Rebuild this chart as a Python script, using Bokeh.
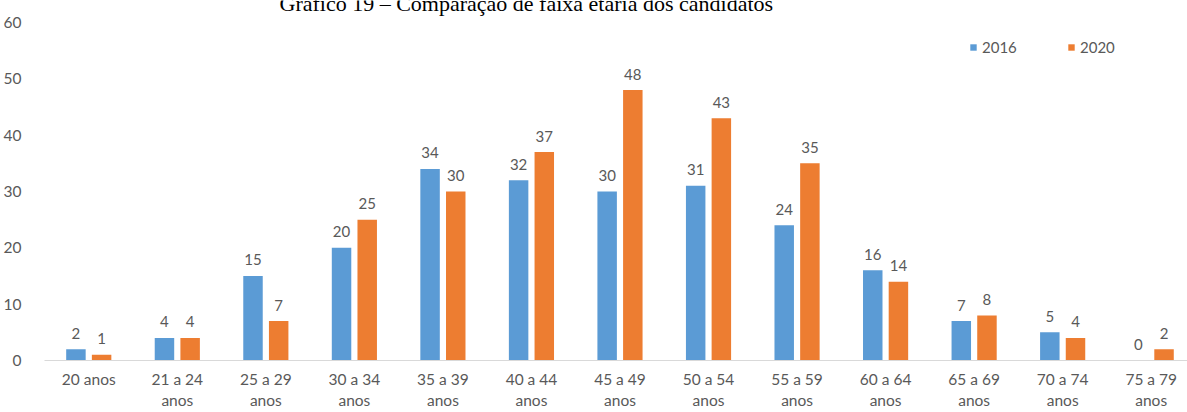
from bokeh.plotting import figure
from bokeh.models import ColumnDataSource, Range1d, FixedTicker, Label, Legend, LegendItem
from bokeh.transform import dodge
from bokeh.core.properties import value
from bokeh.embed import file_html
from bokeh.resources import INLINE

title_text = "Gráfico 19 – Comparação de faixa etária dos candidatos"
categories = ["20 anos", "21 a 24\nanos", "25 a 29\nanos", "30 a 34\nanos", "35 a 39\nanos",
              "40 a 44\nanos", "45 a 49\nanos", "50 a 54\nanos", "55 a 59\nanos", "60 a 64\nanos",
              "65 a 69\nanos", "70 a 74\nanos", "75 a 79\nanos"]
v2016 = [2, 4, 15, 20, 34, 32, 30, 31, 24, 16, 7, 5, 0]
v2020 = [1, 4, 7, 25, 30, 37, 48, 43, 35, 14, 8, 4, 2]
series_names = ["2016", "2020"]
y_ticks = [0, 10, 20, 30, 40, 50, 60]

BLUE = "#5B9BD5"
ORANGE = "#ED7D31"
GRAY = "#595959"
FONT = "Lato"

idx = list(range(len(categories)))
src = ColumnDataSource(dict(
    x=idx, v2016=v2016, v2020=v2020,
    l2016=[str(v) for v in v2016], l2020=[str(v) for v in v2020],
))

# frame reaches the top edge so the cut-off caption can be drawn there;
# the 60 tick sits ~22 px below the top
p = figure(width=1187, height=412, output_backend="svg", toolbar_location=None,
           x_range=Range1d(-0.5, 12.41), y_range=Range1d(0, 63.9),
           min_border_left=44, min_border_right=0, min_border_top=0, min_border_bottom=51)
p.outline_line_color = None
p.xgrid.visible = False
p.ygrid.visible = False
p.background_fill_color = "white"
p.border_fill_color = "white"

w = 0.22
off = 0.145
r1 = p.vbar(x=dodge("x", -off, range=p.x_range), top="v2016", width=w, source=src,
            fill_color=BLUE, line_color=None)
r2 = p.vbar(x=dodge("x", off, range=p.x_range), top="v2020", width=w, source=src,
            fill_color=ORANGE, line_color=None)

for col, top, o in (("l2016", "v2016", -off), ("l2020", "v2020", off)):
    p.text(x=dodge("x", o, range=p.x_range), y=top, text=col, source=src,
           text_align="center", text_baseline="alphabetic", y_offset=-16,
           text_font=value(FONT), text_font_size="15px", text_color=GRAY)

# x axis
xa = p.xaxis[0]
xa.ticker = FixedTicker(ticks=idx)
xa.major_label_overrides = {i: c for i, c in zip(idx, categories)}
xa.axis_line_color = "#D9D9D9"
xa.axis_line_width = 1
xa.major_tick_line_color = None
xa.minor_tick_line_color = None
xa.major_label_text_font = FONT
xa.major_label_text_font_size = "15.5px"
xa.major_label_text_color = GRAY
xa.major_label_standoff = 3
xa.major_label_text_line_height = 1.2

# y axis
ya = p.yaxis[0]
ya.ticker = FixedTicker(ticks=y_ticks)
ya.axis_line_color = None
ya.major_tick_line_color = None
ya.minor_tick_line_color = None
ya.major_label_text_font = FONT
ya.major_label_text_font_size = "15.5px"
ya.major_label_text_color = GRAY
ya.major_label_standoff = 17

legend = Legend(items=[LegendItem(label=series_names[0], renderers=[r1]),
                       LegendItem(label=series_names[1], renderers=[r2])],
                orientation="horizontal", location=(925, 304),
                glyph_width=8, glyph_height=8, label_standoff=5, spacing=5,
                label_width=80, label_height=15, padding=0, margin=0,
                border_line_color=None, background_fill_alpha=0,
                label_text_font=FONT, label_text_font_size="15px", label_text_color=GRAY)
p.add_layout(legend, "center")

# caption (cut off at the top in the reference); placed above the 60 level
title = Label(x=235, x_units="screen", y=60, y_offset=19, text=title_text,
              text_font="Liberation Serif", text_font_size="22px", text_color="#000000",
              text_align="left", text_baseline="alphabetic")
p.add_layout(title)

open("out.html", "w").write(file_html(p, INLINE))
